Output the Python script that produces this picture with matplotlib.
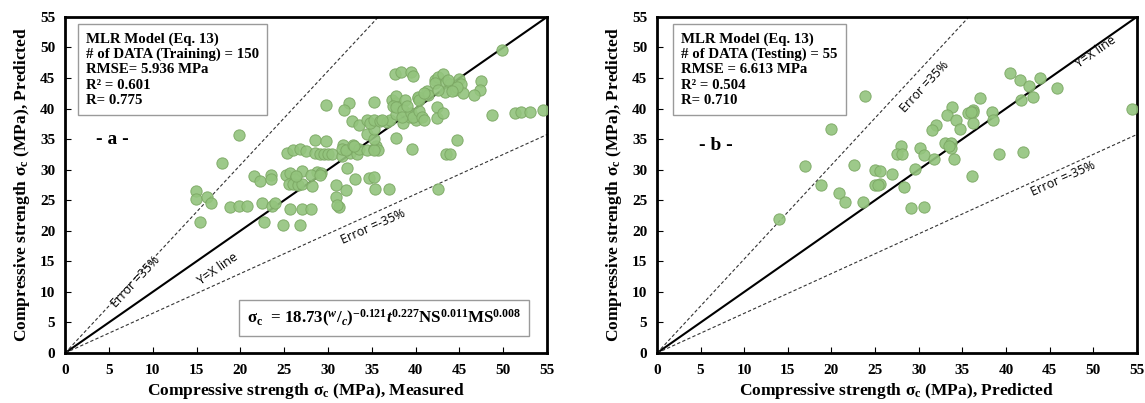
import numpy as np
import matplotlib
matplotlib.use("Agg")
import matplotlib.pyplot as plt

plt.rcParams["font.family"] = ["Liberation Serif", "DejaVu Serif"]
plt.rcParams["font.weight"] = "bold"
plt.rcParams["mathtext.fontset"] = "custom"
plt.rcParams["mathtext.rm"] = "Liberation Serif:bold"
plt.rcParams["mathtext.bf"] = "Liberation Serif:bold"
plt.rcParams["mathtext.it"] = "Liberation Serif:bold:italic"

# training data (measured, predicted)
train_measured = [
    14.9, 14.9, 15.4, 16.2, 16.6, 17.9, 18.8, 19.8, 19.9, 20.8, 21.6, 22.2, 22.5, 22.7, 23.5, 23.5, 23.6, 23.9,
    24.9, 26.8, 25.7, 27.0, 28.1, 25.2, 25.7, 26.2, 27.0, 25.5, 26.0, 26.6, 27.0, 28.2, 28.7, 29.2, 28.1, 29.1,
    25.3, 26.0, 26.8, 27.5, 28.5, 29.8, 28.5, 29.1, 29.5, 30.0, 30.5, 31.6, 32.5, 33.3,
    31.7, 31.6, 32.1, 32.9, 33.5, 34.4, 35.3, 35.5, 35.7, 35.2, 34.4, 35.3, 35.2,
    32.2, 33.1, 34.7, 35.2, 35.4, 37.0, 32.1, 30.9, 30.9, 31.3, 31.0, 42.5,
    32.7, 33.5, 34.4, 34.8, 35.3, 35.9, 36.7, 37.1, 37.8, 38.6, 39.4, 40.0, 37.8,
    37.3, 37.8, 37.8, 38.8, 37.4, 37.8, 38.6, 38.5, 39.5, 39.7, 40.4, 40.7, 40.9, 40.3, 41.3, 41.4, 40.3, 40.4,
    35.2, 32.4, 31.8, 29.8, 42.4, 42.4, 43.1,
    49.9, 37.7, 38.3, 39.5, 39.7, 42.2, 42.6, 43.1, 42.2, 43.5, 43.9, 45.0, 45.2, 44.5, 45.4, 44.7, 43.3, 42.6,
    47.5, 47.3, 46.7,
    39.6, 44.7, 43.5, 43.9, 48.7, 51.3, 52.0, 53.0, 54.5,
    36.2, 39.0, 43.7, 33.0, 26.4, 41.0, 44.2,
]
train_predicted = [
    26.5, 25.2, 21.5, 25.5, 24.5, 31.1, 23.9, 24.0, 35.7, 24.0, 28.9, 28.2, 24.5, 21.5, 29.1, 28.4, 24.1, 24.5,
    20.9, 20.9, 23.5, 23.6, 23.6, 29.1, 29.4, 28.5, 29.8, 27.6, 27.7, 27.5, 27.7, 27.3, 29.7, 29.4, 29.2, 29.1,
    32.7, 33.2, 33.4, 33.1, 34.9, 34.7, 32.7, 32.6, 32.5, 32.5, 32.6, 32.3, 32.8, 32.5,
    34.1, 33.4, 33.2, 34.1, 33.4, 33.2, 33.4, 33.8, 33.2, 33.2, 35.8, 35.1, 36.6,
    30.2, 28.4, 28.7, 28.8, 26.9, 26.9, 26.6, 27.5, 25.5, 23.9, 24.3, 26.9,
    38.0, 37.3, 38.1, 37.6, 38.1, 38.0, 37.8, 38.1, 39.1, 37.6, 38.6, 38.1, 35.2,
    41.4, 40.9, 42.0, 41.4, 40.4, 40.3, 39.7, 38.6, 39.2, 38.6, 39.6, 38.6, 38.1, 41.8, 42.9, 42.2, 41.9, 41.4,
    41.1, 40.9, 39.8, 40.6, 40.2, 38.5, 39.2,
    49.6, 45.7, 46.0, 46.0, 45.4, 44.7, 45.1, 45.7, 44.2, 44.3, 44.1, 44.9, 44.1, 43.0, 42.5, 43.5, 42.7, 43.0,
    44.5, 43.0, 42.3,
    33.4, 34.9, 32.6, 32.6, 39.0, 39.2, 39.4, 39.4, 39.7,
    38.2, 40.5, 44.6, 33.8, 29.0, 42.6, 42.8,
]

# testing data (x, y)
test_x = [
    40.45, 41.6, 43.9, 42.7, 45.9, 41.7, 43.1, 54.4, 37.0, 33.8, 33.3, 34.3, 35.6, 36.2, 36.2, 36.2, 38.35, 38.5,
    32.0, 31.5, 34.7, 33.0, 33.7, 33.7, 30.1, 30.6, 31.7, 34.0, 28.0, 27.5, 28.1, 29.6, 39.2, 42.0, 36.1,
    25.0, 25.6, 26.9, 25.0, 25.6, 28.3, 22.6, 23.9, 19.9, 17.0, 18.75, 20.9, 21.5, 23.6, 29.1, 30.6, 14.0,
    33.5, 36.0, 25.3,
]
test_y = [
    45.8, 44.6, 45.0, 43.7, 43.4, 41.4, 41.9, 40.0, 41.8, 40.3, 38.95, 38.1, 39.2, 39.8, 39.4, 37.7, 39.4, 38.2,
    37.3, 36.5, 36.6, 34.4, 34.3, 33.5, 33.5, 32.4, 31.8, 31.7, 33.9, 32.6, 32.5, 30.1, 32.6, 32.95, 28.9,
    29.95, 29.8, 29.3, 27.5, 27.6, 27.2, 30.8, 42.1, 36.6, 30.6, 27.5, 26.2, 24.7, 24.7, 23.8, 23.9, 21.9,
    33.9, 39.5, 27.5,
]

ticks = list(range(0, 56, 5))

fig = plt.figure(figsize=(11.45, 4.03), dpi=100)
ax1 = fig.add_axes([0.0568, 0.124, 0.421, 0.834])
ax2 = fig.add_axes([0.5738, 0.124, 0.419, 0.834])


def draw_panel(ax, xs, ys):
    line = np.array([0, 55])
    ax.plot(line, line, color="black", lw=1.5, zorder=2)
    ax.plot(line, line / 0.65, color="#333333", lw=0.8, ls=(0, (3, 2)), zorder=2)
    ax.plot(line, line * 0.65, color="#333333", lw=0.8, ls=(0, (3, 2)), zorder=2)
    ax.scatter(xs, ys, s=66, color="#93c47d", edgecolors="#7ca864", linewidths=0.7,
               alpha=0.9, zorder=3)
    ax.set_xlim(0, 55)
    ax.set_ylim(0, 55)
    ax.set_xticks(ticks)
    ax.set_yticks(ticks)
    ax.tick_params(direction="in", length=4, width=0.8, labelsize=11)
    ax.tick_params(axis="x", pad=8)
    ax.tick_params(axis="y", pad=7)
    for s in ax.spines.values():
        s.set_linewidth(2)
    ax.set_ylabel(r"Compressive strength σ$_\mathregular{c}$ (MPa), Predicted", fontsize=12.5,
                  fontweight="bold", labelpad=6)


draw_panel(ax1, train_measured, train_predicted)
draw_panel(ax2, test_x, test_y)

ax1.set_xlabel(r"Compressive strength σ$_\mathregular{c}$ (MPa), Measured", fontsize=12.5,
               fontweight="bold", labelpad=3)
ax2.set_xlabel(r"Compressive strength σ$_\mathregular{c}$ (MPa), Predicted", fontsize=12.5,
               fontweight="bold", labelpad=3)

box = dict(boxstyle="square,pad=0.55", facecolor="white", edgecolor="#9a9a9a", lw=1)
ax1.text(0.043, 0.955, "MLR Model (Eq. 13)\n# of DATA (Training) = 150\nRMSE= 5.936 MPa\nR² = 0.601\nR= 0.775",
         transform=ax1.transAxes, ha="left", va="top", fontsize=10.7, linespacing=1.22, bbox=box, zorder=5)
ax2.text(0.05, 0.955, "MLR Model (Eq. 13)\n# of DATA (Testing) = 55\nRMSE = 6.613 MPa\nR² = 0.504\nR= 0.710",
         transform=ax2.transAxes, ha="left", va="top", fontsize=10.7, linespacing=1.22, bbox=box, zorder=5)

ax1.text(0.098, 0.634, "- a -", transform=ax1.transAxes, ha="center", va="center", fontsize=14)
ax2.text(0.123, 0.616, "- b -", transform=ax2.transAxes, ha="center", va="center", fontsize=14)

formula = (r"$\mathrm{\sigma_c}$  = 18.73$(^{w}/_{c})^{-0.121}t^{0.227}$NS$^{0.011}$MS$^{0.008}$")
ax1.text(0.662, 0.104, formula, transform=ax1.transAxes, ha="center", va="center", fontsize=12.2,
         bbox=dict(boxstyle="square,pad=0.45", facecolor="white", edgecolor="#9a9a9a", lw=1))

lbl = dict(family=["Open Sans", "DejaVu Sans"], fontweight="normal", fontsize=9,
           ha="center", va="center", rotation_mode="anchor")
ax1.text(8.0, 11.6, "Error =35%", rotation=47, **lbl)
ax1.text(17.4, 13.8, "Y=X line", rotation=35, **lbl)
ax1.text(35.1, 20.6, "Error =-35%", rotation=24, **lbl)
ax2.text(30.7, 43.5, "Error =35%", rotation=47, **lbl)
ax2.text(50.3, 49.3, "Y=X line", rotation=35, **lbl)
ax2.text(46.6, 28.6, "Error =-35%", rotation=24, **lbl)

fig.savefig("out.png", dpi=100)
